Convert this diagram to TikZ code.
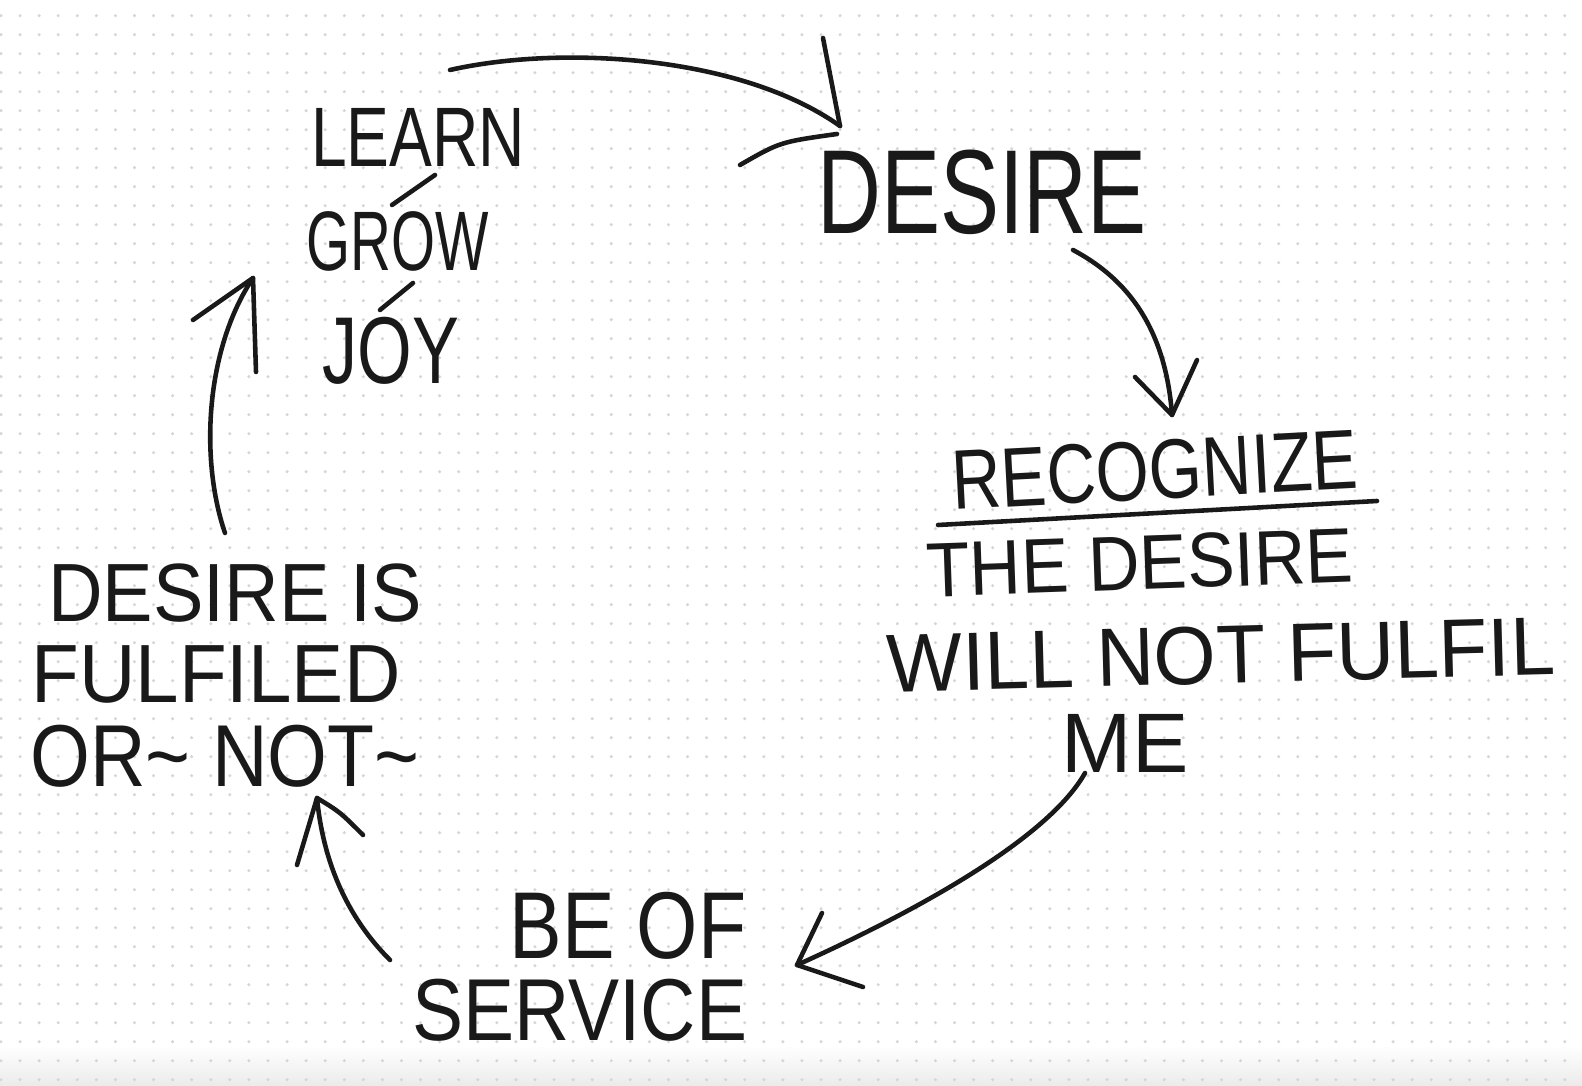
\documentclass[tikz,border=0pt]{standalone}
\usepackage{fontspec}
\setmainfont{Liberation Sans}
\usepackage{xcolor}
\usepackage{tikz}
\usetikzlibrary{positioning}

\definecolor{ink}{gray}{0.1}
\definecolor{dotgray}{gray}{0.84}
\newcommand{\handtext}[2]{\scalebox{#1}[1]{#2}}

\begin{document}
\begin{tikzpicture}[
    x=0.01cm, y=-0.01cm,
    word/.style={inner sep=0pt, text=ink, anchor=center},
    pen/.style={draw=ink, line width=1.3pt, line cap=round, line join=round},
]
\useasboundingbox (0,0) rectangle (1582,1086);
\fill[white] (0,0) rectangle (1582,1086);
\shade[top color=white, bottom color=black!8] (0,1045) rectangle (1582,1086);

% --- Dot grid ---
\foreach \r in {0,...,56} {
    \foreach \c in {0,...,82} {
        \fill[dotgray] (1+19.07*\c, 15.7+19*\r) circle (0.17mm);
    }
}

% --- Learn / grow / joy ---
\node[word, font=\fontsize{24pt}{28pt}\selectfont] (learn) at (418,137) {\handtext{0.76}{LEARN}};
\node[word, font=\fontsize{24pt}{28pt}\selectfont] (grow) at (398,241) {\handtext{0.67}{GROW}};
\node[word, font=\fontsize{27pt}{30pt}\selectfont] (joy) at (391,351) {\handtext{0.74}{JOY}};
\draw[pen] (392,205) -- (435,175);
\draw[pen] (380,310) -- (413,283);

% --- Desire ---
\node[word, font=\fontsize{34pt}{38pt}\selectfont] (desire) at (982,192) {\handtext{0.74}{DESIRE}};

% --- Recognize the desire ---
\node[word, rotate=3, font=\fontsize{24pt}{28pt}\selectfont] (recog) at (1155,470) {\handtext{0.81}{RECOGNIZE}};
\draw[pen] (938,525) -- (1377,501);
\node[word, rotate=2, font=\fontsize{22pt}{26pt}\selectfont] (thedesire) at (1140,563) {\handtext{0.92}{THE DESIRE}};
\node[word, rotate=1.5, font=\fontsize{23.5pt}{28pt}\selectfont] (fulfil) at (1221,655) {\handtext{0.97}{WILL NOT FULFIL}};
\node[word, font=\fontsize{24pt}{28pt}\selectfont] (me) at (1125,743) {ME};

% --- Be of service ---
\node[word, font=\fontsize{27pt}{30pt}\selectfont] (beof) at (628,926) {\handtext{0.83}{BE OF}};
\node[word, font=\fontsize{25pt}{28pt}\selectfont] (service) at (580,1010) {\handtext{0.87}{SERVICE}};

% --- Desire is fulfiled ---
\node[word, font=\fontsize{23.5pt}{28pt}\selectfont] (desireis) at (235,593) {\handtext{0.915}{DESIRE IS}};
\node[word, font=\fontsize{23.5pt}{28pt}\selectfont] (fulfiled) at (216,674) {\handtext{0.945}{FULFILED}};
\node[word, font=\fontsize{25pt}{28pt}\selectfont] (ornot) at (225,756) {\handtext{0.875}{OR\textasciitilde\ NOT\textasciitilde}};

% --- Arrow ends ---
\coordinate (a1s) at (450,70);    \coordinate (a1e) at (840,126);
\coordinate (a2s) at (1073,250);  \coordinate (a2e) at (1172,415);
\coordinate (a3s) at (1085,773);  \coordinate (a3e) at (797,965);
\coordinate (a4s) at (390,960);   \coordinate (a4e) at (317,798);
\coordinate (a5s) at (225,533);   \coordinate (a5e) at (253,278);

% --- Learn -> desire ---
\draw[pen] (a1s) .. controls (560,45) and (740,55) .. (a1e);
\draw[pen] (823,38) -- (a1e);
\draw[pen] (740,165) .. controls (780,142) .. (837,134);

% --- Desire -> recognize ---
\draw[pen] (a2s) .. controls (1120,275) and (1165,320) .. (a2e);
\draw[pen] (1135,377) -- (a2e) -- (1197,360);

% --- Me -> be of service ---
\draw[pen] (a3s) .. controls (1050,835) and (930,905) .. (a3e);
\draw[pen] (822,913) -- (a3e) -- (863,987);

% --- Service -> fulfiled ---
\draw[pen] (a4s) .. controls (340,910) and (322,850) .. (a4e);
\draw[pen] (297,865) -- (a4e) .. controls (340,812) .. (363,835);

% --- Fulfiled -> learn ---
\draw[pen] (a5s) .. controls (200,460) and (205,350) .. (a5e);
\draw[pen] (193,320) -- (a5e) -- (256,372);

\end{tikzpicture}
\end{document}
